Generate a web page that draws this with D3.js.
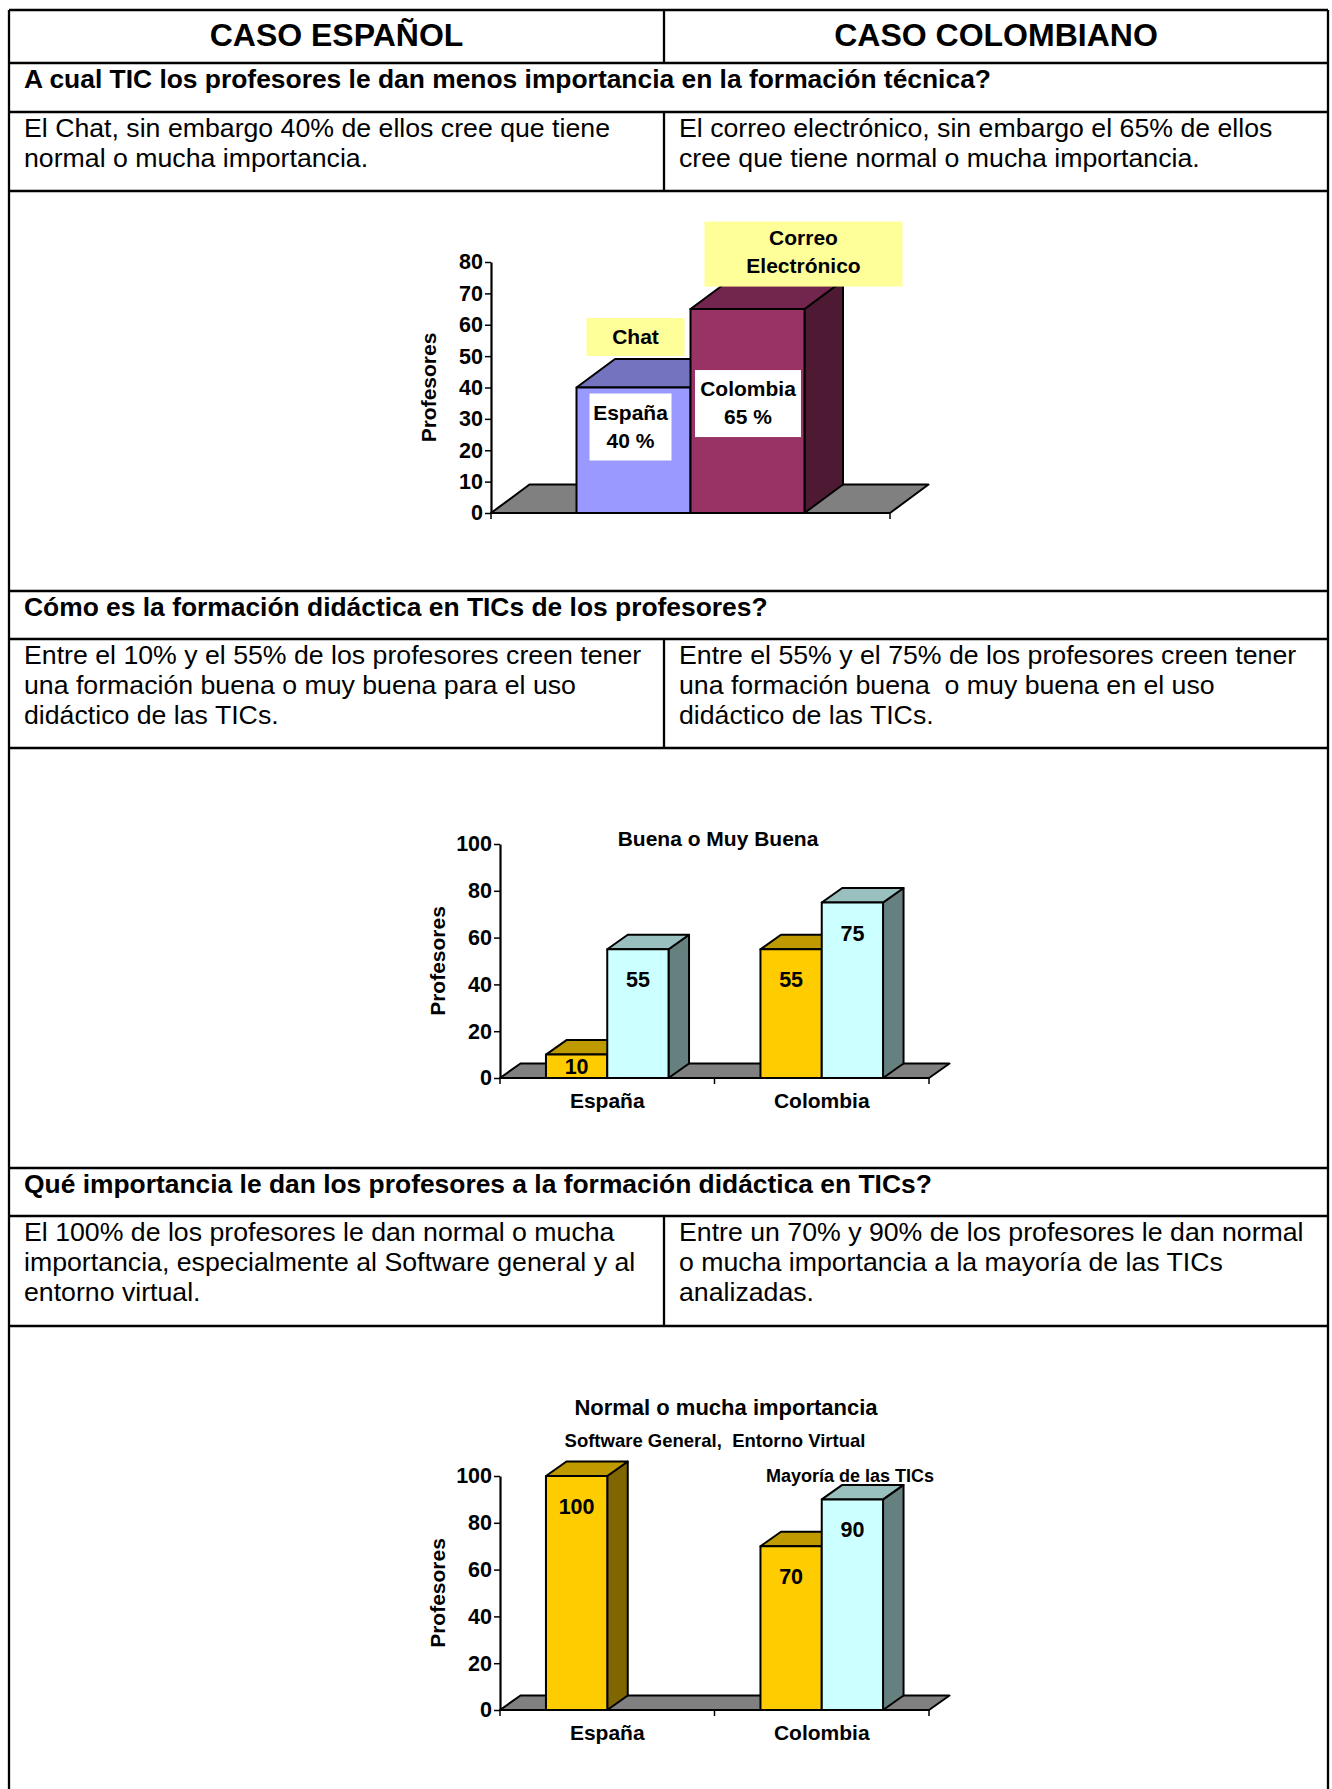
<!DOCTYPE html>
<html>
<head>
<meta charset="utf-8">
<script src="https://d3js.org/d3.v7.min.js"></script>
<style>
body { margin: 0; background: #fff; }
svg { display: block; font-family: "Liberation Sans", Arial, sans-serif; }
</style>
</head>
<body>
<svg id="drawing_region"></svg>
<script>
// ---- data ----
// chart 1: least valued TIC
const tic_series = ["España", "Colombia"];
const tic_values = [40, 65];
const tic_names = [["Chat"], ["Correo", "Electrónico"]];
const tic_ticks = [0, 10, 20, 30, 40, 50, 60, 70, 80];

// chart 2: Buena o Muy Buena
const countries = ["España", "Colombia"];
const buena_yellow = [10, 55];
const buena_cyan = [55, 75];
const buena_ticks = [0, 20, 40, 60, 80, 100];

// chart 3: Normal o mucha importancia
const normal_yellow = [100, 70];
const normal_cyan = [null, 90];
const normal_ticks = [0, 20, 40, 60, 80, 100];

// table texts
const headers = ["CASO ESPAÑOL", "CASO COLOMBIANO"];
const questions = [
    "A cual TIC los profesores le dan menos importancia en la formación técnica?",
    "Cómo es la formación didáctica en TICs de los profesores?",
    "Qué importancia le dan los profesores a la formación didáctica en TICs?"
];
const answers_es = [
    ["El Chat, sin embargo 40% de ellos cree que tiene", "normal o mucha importancia."],
    ["Entre el 10% y el 55% de los profesores creen tener", "una formación buena o muy buena para el uso", "didáctico de las TICs."],
    ["El 100% de los profesores le dan normal o mucha", "importancia, especialmente al Software general y al", "entorno virtual."]
];
const answers_co = [
    ["El correo electrónico, sin embargo el 65% de ellos", "cree que tiene normal o mucha importancia."],
    ["Entre el 55% y el 75% de los profesores creen tener", "una formación buena\u00a0 o muy buena en el uso", "didáctico de las TICs."],
    ["Entre un 70% y 90% de los profesores le dan normal", "o mucha importancia a la mayoría de las TICs", "analizadas."]
];

const W = 1332, H = 1789;
const svg = d3.select('#drawing_region').attr('width', W).attr('height', H);
svg.append('rect').attr('width', W).attr('height', H).attr('fill', '#fff');

// ---- table ----
const L = 9, R = 1328, M = 664;
// row boundaries: header, q1, a1, chart1, q2, a2, chart2, q3, a3, chart3
const rowY = [10, 63, 112, 191, 591, 639, 748, 1168, 1216, 1326];

const grid = svg.append('g').attr('stroke', '#000').attr('stroke-width', 2.3);
rowY.forEach(y => grid.append('line').attr('x1', L).attr('x2', R).attr('y1', y).attr('y2', y));
grid.append('line').attr('x1', L).attr('x2', L).attr('y1', rowY[0]).attr('y2', H);
grid.append('line').attr('x1', R).attr('x2', R).attr('y1', rowY[0]).attr('y2', H);
[[0, 1], [2, 3], [5, 6], [8, 9]].forEach(([a, b]) =>
    grid.append('line').attr('x1', M).attr('x2', M).attr('y1', rowY[a]).attr('y2', rowY[b]));

headers.forEach((h, i) => {
    svg.append('text')
        .attr('x', i == 0 ? (L + M) / 2 : (M + R) / 2)
        .attr('y', 46)
        .attr('text-anchor', 'middle')
        .attr('font-size', 32).attr('font-weight', 'bold')
        .text(h);
});

const qRows = [1, 4, 7];
questions.forEach((q, i) => {
    svg.append('text')
        .attr('x', 24).attr('y', rowY[qRows[i]] + 25)
        .attr('font-size', 26.4).attr('font-weight', 'bold')
        .text(q);
    [answers_es[i], answers_co[i]].forEach((lines, j) => {
        lines.forEach((s, k) => {
            svg.append('text')
                .attr('x', j == 0 ? 24 : 679)
                .attr('y', rowY[qRows[i] + 1] + 25 + k * 30)
                .attr('font-size', 26.7)
                .text(s);
        });
    });
});

// ---- 3D bar chart ----
class Bar3DChart {
    constructor(config) {
        this.config = config;
        this.init();
    }

    init() {
        let self = this;
        const c = self.config;
        self.chart = svg.append('g');

        self.yscale = d3.scaleLinear().domain([0, c.ymax]).range([c.y0, c.ytop]);
        self.xscale = d3.scaleBand().domain(c.categories).range([c.x0, c.x1]);
        self.sscale = d3.scaleBand().domain(c.series.map(s => s.name))
            .range([0, self.xscale.bandwidth()])
            .paddingOuter(0.75).paddingInner(0);

        // floor
        self.chart.append('polygon')
            .attr('points', [[c.x0, c.y0], [c.x1, c.y0], [c.x1 + c.dx, c.y0 + c.dy], [c.x0 + c.dx, c.y0 + c.dy]].join(' '))
            .attr('fill', '#808080').attr('stroke', '#000').attr('stroke-width', 2)
            .attr('stroke-linejoin', 'round');

        // x axis line with boundary ticks
        const bounds = [c.x0].concat(c.categories.map(d => self.xscale(d) + self.xscale.bandwidth()));
        self.chart.append('line')
            .attr('x1', c.x0).attr('x2', c.x1).attr('y1', c.y0).attr('y2', c.y0)
            .attr('stroke', '#000').attr('stroke-width', 2.2);
        self.chart.selectAll('.xtick').data(bounds).join('line')
            .attr('x1', d => d).attr('x2', d => d)
            .attr('y1', c.y0).attr('y2', c.y0 + 6)
            .attr('stroke', '#000').attr('stroke-width', 1.5);
        if (c.showCategories) {
            self.chart.selectAll('.xlab').data(c.categories).join('text')
                .attr('x', d => self.xscale(d) + self.xscale.bandwidth() / 2)
                .attr('y', c.y0 + 30)
                .attr('text-anchor', 'middle')
                .attr('font-size', 21).attr('font-weight', 'bold')
                .text(d => d);
        }

        // bars, left to right
        self.bars = [];
        c.categories.forEach((cat, ci) => {
            c.series.forEach(s => {
                const v = s.values[ci];
                if (v == null) return;
                const x = self.xscale(cat) + self.sscale(s.name);
                const w = self.sscale.bandwidth();
                const y = self.yscale(v);
                const g = self.chart.append('g')
                    .attr('stroke', '#000').attr('stroke-width', 2).attr('stroke-linejoin', 'round');
                g.append('polygon')
                    .attr('points', [[x + w, c.y0], [x + w + c.dx, c.y0 + c.dy], [x + w + c.dx, y + c.dy], [x + w, y]].join(' '))
                    .attr('fill', s.side);
                g.append('polygon')
                    .attr('points', [[x, y], [x + w, y], [x + w + c.dx, y + c.dy], [x + c.dx, y + c.dy]].join(' '))
                    .attr('fill', s.top);
                g.append('rect')
                    .attr('x', x).attr('y', y).attr('width', w).attr('height', c.y0 - y)
                    .attr('fill', s.front);
                self.bars.push({ cat: cat, series: s.name, value: v, x: x, w: w, y: y });
            });
        });

        // y axis
        const yaxis = d3.axisLeft(self.yscale).tickValues(c.ticks).tickSize(6).tickSizeOuter(0).tickPadding(2);
        const ya = self.chart.append('g')
            .attr('transform', `translate(${c.x0},0)`)
            .call(yaxis);
        ya.select('.domain').attr('stroke', '#000').attr('stroke-width', 2.2);
        ya.selectAll('.tick line').attr('stroke', '#000').attr('stroke-width', 1.5);
        ya.selectAll('.tick text')
            .attr('font-size', 21.5).attr('font-weight', 'bold')
            .attr('font-family', '"Liberation Sans", Arial, sans-serif')
            .attr('fill', '#000');

        self.chart.append('text')
            .attr('transform', `translate(${c.x0 - 55},${(c.y0 + c.ytop) / 2}) rotate(-90)`)
            .attr('text-anchor', 'middle')
            .attr('font-size', 21).attr('font-weight', 'bold')
            .text('Profesores');
    }

    valueLabels() {
        let self = this;
        const c = self.config;
        self.chart.selectAll('.vlab').data(self.bars).join('text')
            .attr('x', d => d.x + d.w / 2)
            .attr('y', d => Math.min(d.y + 38, (d.y + c.y0) / 2 + 7.5))
            .attr('text-anchor', 'middle')
            .attr('font-size', 21.5).attr('font-weight', 'bold')
            .text(d => d.value);
    }

    text(s, x, y, size) {
        this.chart.append('text')
            .attr('x', x).attr('y', y)
            .attr('text-anchor', 'middle')
            .attr('font-size', size).attr('font-weight', 'bold')
            .text(s);
    }
}

const yellow = { front: '#FFCC00', top: '#BF9900', side: '#806600' };
const cyan = { front: '#CCFFFF', top: '#99BFBF', side: '#668080' };

// chart 1
const chart1 = new Bar3DChart({
    x0: 491, x1: 890, y0: 513, ytop: 262, ymax: 80, dx: 38.5, dy: -28.5,
    categories: ["TIC"], ticks: tic_ticks, showCategories: false,
    series: [
        { name: tic_series[0], values: [tic_values[0]], front: '#9999FF', top: '#7373BF', side: '#4D4D80' },
        { name: tic_series[1], values: [tic_values[1]], front: '#993366', top: '#73264D', side: '#4D1933' }
    ]
});
// tag boxes above the bars and country boxes inside
chart1.bars.forEach((b, i) => {
    const g = chart1.chart.append('g');
    const names = tic_names[i];
    const cx = i == 0 ? b.x + b.w / 2 + 2 : b.x + b.w / 2 + 56;
    const bw = i == 0 ? 98 : 198;
    const bh = i == 0 ? 38 : 65;
    const bottom = i == 0 ? b.y + chart1.config.dy - 3 : b.y + chart1.config.dy + 6;
    g.append('rect').attr('x', cx - bw / 2).attr('y', bottom - bh).attr('width', bw).attr('height', bh)
        .attr('fill', '#FFFF99');
    names.forEach((n, k) => chart1.text(n, cx, bottom - bh + (names.length == 1 ? 26 : 23 + k * 28), 21));

    const wcx = i == 0 ? b.x + b.w / 2 - 3 : b.x + b.w / 2 + 0.5;
    const ww = i == 0 ? 82 : 106;
    const wtop = i == 0 ? b.y + 6 : b.y + 61;
    g.append('rect').attr('x', wcx - ww / 2).attr('y', wtop).attr('width', ww).attr('height', 67)
        .attr('fill', '#fff');
    chart1.text(b.series, wcx, wtop + 26, 21);
    chart1.text(b.value + ' %', wcx, wtop + 54, 21);
});

// chart 2
const chart2 = new Bar3DChart({
    x0: 500, x1: 929, y0: 1078, ytop: 844, ymax: 100, dx: 20.5, dy: -14.5,
    categories: countries, ticks: buena_ticks, showCategories: true,
    series: [
        Object.assign({ name: 'a', values: buena_yellow }, yellow),
        Object.assign({ name: 'b', values: buena_cyan }, cyan)
    ]
});
chart2.valueLabels();
chart2.text('Buena o Muy Buena', 718, 846, 21);

// chart 3
const chart3 = new Bar3DChart({
    x0: 500, x1: 929, y0: 1710, ytop: 1476, ymax: 100, dx: 20.5, dy: -14.5,
    categories: countries, ticks: normal_ticks, showCategories: true,
    series: [
        Object.assign({ name: 'a', values: normal_yellow }, yellow),
        Object.assign({ name: 'b', values: normal_cyan }, cyan)
    ]
});
chart3.valueLabels();
chart3.text('Normal o mucha importancia', 726, 1415, 22);
chart3.text('Software General,\u00a0 Entorno Virtual', 715, 1447, 18.5);
chart3.text('Mayoría de las TICs', 850, 1482, 18);
</script>
</body>
</html>
